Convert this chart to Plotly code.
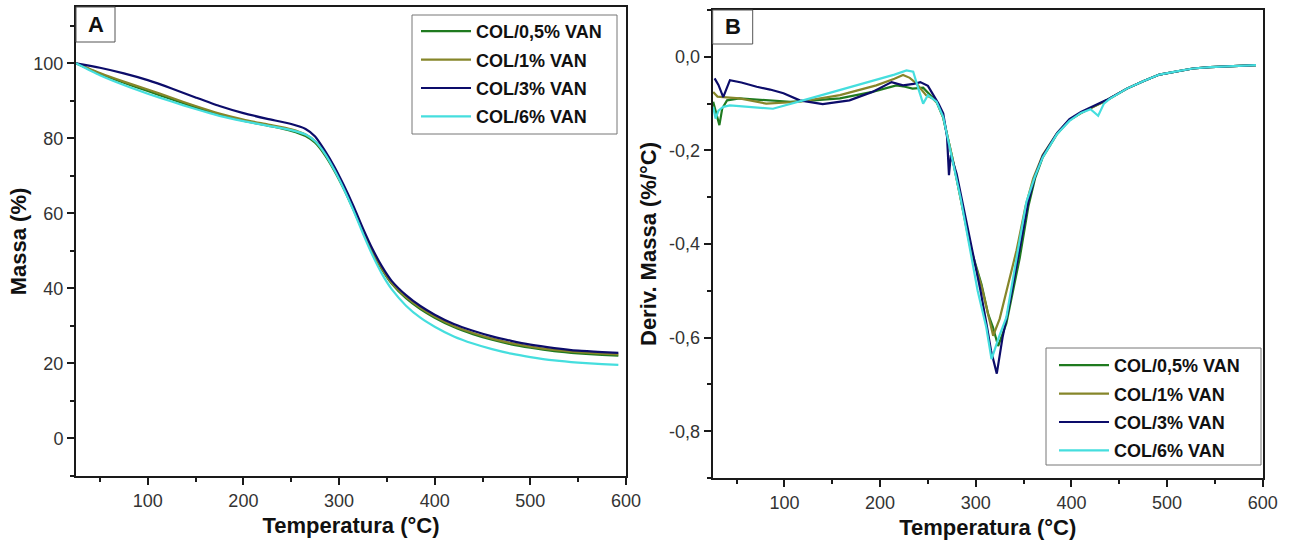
import plotly.graph_objects as go

# ---------------- data ----------------
series_names = ["COL/0,5% VAN", "COL/1% VAN", "COL/3% VAN", "COL/6% VAN"]
series_colors = ["#1f7a1f", "#86862a", "#0c0c6a", "#45dede"]

# Panel A: TG (Massa %)
T_TG = [25, 50, 75, 100, 125, 150, 175, 200, 225, 250, 265, 275, 285, 295, 305, 315,
        325, 335, 345, 355, 370, 385, 400, 420, 440, 460, 480, 500, 525, 550, 575, 592]
TG_05 = [100, 97.2, 94.8, 92.6, 90.4, 88.2, 86.3, 84.7, 83.4, 82.0, 80.6, 78.8, 75.6, 71.4, 66.5, 61.0,
         55.2, 49.7, 45.0, 41.3, 37.4, 34.5, 32.2, 29.7, 27.8, 26.3, 25.1, 24.2, 23.3, 22.7, 22.3, 22.1]
TG_1 = [100, 97.4, 95.1, 93.0, 90.8, 88.6, 86.6, 85.0, 83.7, 82.4, 81.0, 79.2, 76.0, 71.8, 66.8, 61.2,
        55.4, 49.9, 45.2, 41.5, 37.7, 34.8, 32.5, 30.0, 28.1, 26.6, 25.4, 24.5, 23.6, 23.0, 22.6, 22.4]
TG_3 = [100, 98.8, 97.3, 95.5, 93.3, 90.9, 88.6, 86.7, 85.2, 83.8, 82.5, 80.5, 76.8, 72.5, 67.5, 62.0,
        56.0, 50.5, 45.8, 42.0, 38.2, 35.3, 33.0, 30.5, 28.7, 27.2, 26.0, 25.0, 24.1, 23.4, 23.0, 22.8]
TG_6 = [100, 96.8, 94.2, 91.9, 89.8, 87.8, 86.0, 84.6, 83.4, 82.2, 81.0, 79.2, 76.0, 71.6, 66.5, 60.8,
        54.6, 48.8, 43.8, 39.8, 35.4, 32.2, 29.8, 27.2, 25.3, 23.8, 22.6, 21.7, 20.8, 20.2, 19.8, 19.6]

# Panel B: DTG (%/°C)
T_D05 = [25.5, 29, 32, 35, 40, 53, 75, 106, 130, 158, 192, 217, 226, 234, 245, 252, 259, 266, 276, 286,
         295.5, 306, 313, 318, 323.4, 332, 340, 346, 355, 362, 370, 385, 398, 410, 423, 437, 458, 475,
         492, 510, 527, 545, 562, 580, 593]
D05 = [-0.096, -0.12, -0.146, -0.11, -0.093, -0.089, -0.092, -0.096, -0.093, -0.089, -0.075, -0.061,
       -0.064, -0.068, -0.066, -0.08, -0.096, -0.13, -0.22, -0.32, -0.414, -0.486, -0.55, -0.578, -0.618,
       -0.57, -0.49, -0.43, -0.32, -0.26, -0.215, -0.165, -0.135, -0.12, -0.107, -0.093, -0.068, -0.052,
       -0.038, -0.031, -0.025, -0.022, -0.021, -0.019, -0.018]

T_D1 = [25.5, 30, 36, 53, 81, 116, 158, 196, 215, 224, 231, 238, 248, 255, 260, 266, 276, 286, 295,
        306, 313, 318.2, 325, 332, 342.6, 352, 360, 370, 385, 398, 410, 423, 437, 458, 475, 492, 510,
        527, 545, 562, 580, 593]
D1 = [-0.075, -0.085, -0.086, -0.089, -0.1, -0.096, -0.082, -0.061, -0.047, -0.039, -0.045, -0.057,
      -0.082, -0.089, -0.1, -0.13, -0.22, -0.32, -0.414, -0.49, -0.55, -0.596, -0.56, -0.5, -0.414,
      -0.32, -0.26, -0.21, -0.163, -0.135, -0.12, -0.107, -0.093, -0.068, -0.052, -0.038, -0.031,
      -0.025, -0.022, -0.021, -0.019, -0.018]

T_D3 = [27, 31, 36, 43, 55, 71, 85, 99, 116, 140, 168, 192, 212, 224, 235, 242, 250, 255, 261, 266,
        270, 272, 274, 280, 288, 297, 305, 312, 316, 322, 328, 336, 346, 355, 362, 370, 385, 398, 410,
        423, 437, 458, 475, 492, 510, 527, 545, 562, 580, 593]
D3 = [-0.046, -0.06, -0.086, -0.05, -0.055, -0.064, -0.07, -0.078, -0.093, -0.101, -0.093, -0.075,
      -0.054, -0.061, -0.058, -0.054, -0.062, -0.078, -0.1, -0.121, -0.171, -0.253, -0.21, -0.25,
      -0.33, -0.414, -0.5, -0.58, -0.628, -0.677, -0.6, -0.521, -0.414, -0.31, -0.255, -0.212, -0.163,
      -0.133, -0.118, -0.106, -0.092, -0.068, -0.052, -0.038, -0.031, -0.025, -0.022, -0.021, -0.019,
      -0.018]

T_D6 = [25.5, 28, 31, 36, 43, 60, 88, 119.5, 158, 196, 215, 227.6, 234.6, 240, 245, 250, 259, 266,
        276.4, 284, 290.4, 302, 311, 316.5, 324, 332, 344, 353, 362, 370, 385, 398, 410, 420, 428, 434,
        440, 458, 475, 492, 510, 527, 545, 562, 580, 593]
D6 = [-0.107, -0.132, -0.115, -0.107, -0.104, -0.107, -0.111, -0.093, -0.071, -0.05, -0.038, -0.029,
      -0.032, -0.068, -0.1, -0.082, -0.096, -0.129, -0.228, -0.3, -0.371, -0.5, -0.578, -0.646, -0.6,
      -0.557, -0.414, -0.31, -0.255, -0.215, -0.165, -0.137, -0.12, -0.112, -0.126, -0.1, -0.09, -0.068,
      -0.052, -0.038, -0.031, -0.025, -0.022, -0.021, -0.019, -0.018]

x_tickvals = [100, 200, 300, 400, 500, 600]
yA_tickvals = [0, 20, 40, 60, 80, 100]
yB_tickvals = [-0.8, -0.6, -0.4, -0.2, 0.0]
yB_ticktext = ["-0,8", "-0,6", "-0,4", "-0,2", "0,0"]

panel_labels = ["A", "B"]
x_title = "Temperatura (°C)"
yA_title = "Massa (%)"
yB_title = "Deriv. Massa (%/°C)"

# ---------------- figure ----------------
FONT = "Liberation Sans, Arial, Helvetica, sans-serif"
W, H = 1291, 543

fig = go.Figure()

tg_series = [TG_05, TG_1, TG_3, TG_6]
for i, (name, color, ys) in enumerate(zip(series_names, series_colors, tg_series)):
    fig.add_trace(go.Scatter(x=T_TG, y=ys, mode="lines", name=name, legendgroup="A%d" % i,
                             line=dict(color=color, width=2.2, shape="spline", smoothing=0.6),
                             xaxis="x", yaxis="y", legend="legend"))

dtg_x = [T_D05, T_D1, T_D3, T_D6]
dtg_y = [D05, D1, D3, D6]
for i, (name, color, xs, ys) in enumerate(zip(series_names, series_colors, dtg_x, dtg_y)):
    fig.add_trace(go.Scatter(x=xs, y=ys, mode="lines", name=name, legendgroup="B%d" % i,
                             line=dict(color=color, width=2.2),
                             xaxis="x2", yaxis="y2", legend="legend2"))

def px_x(p):
    return p / W

def px_y(p):
    return 1 - p / H

axis_common = dict(showline=True, linecolor="#1a1a1a", linewidth=2, mirror=True,
                   ticks="outside", ticklen=7, tickwidth=1.5, tickcolor="#1a1a1a",
                   showgrid=False, zeroline=False, automargin=False,
                   tickfont=dict(family=FONT, size=18, color="#333333"))
title_font = dict(family=FONT, size=22, color="#111111", weight="bold")
minor_common = dict(ticklen=4, tickwidth=1.5, ticks="outside", tickcolor="#1a1a1a")
legend_common = dict(xanchor="left", yanchor="top", bgcolor="rgba(255,255,255,0)", borderwidth=0,
                     font=dict(family=FONT, size=18, color="#111111", weight="bold"),
                     itemwidth=50, tracegroupgap=2)

fig.update_layout(
    width=W, height=H, autosize=False,
    margin=dict(l=0, r=0, t=0, b=0, pad=0, autoexpand=False),
    paper_bgcolor="white", plot_bgcolor="white",
    xaxis=dict(domain=[px_x(76), px_x(626)], range=[25, 600], tickvals=x_tickvals,
               minor=dict(dtick=50, tick0=0, **minor_common),
               title=dict(text=x_title, font=title_font, standoff=8), anchor="y", **axis_common),
    yaxis=dict(domain=[px_y(476), px_y(7)], range=[-10, 115], tickvals=yA_tickvals,
               minor=dict(dtick=10, tick0=0, **minor_common),
               title=dict(text=yA_title, font=title_font, standoff=1), anchor="x", **axis_common),
    xaxis2=dict(domain=[px_x(712.7), px_x(1262.7)], range=[25, 600], tickvals=x_tickvals,
                minor=dict(dtick=50, tick0=0, **minor_common),
                title=dict(text=x_title, font=title_font, standoff=8), anchor="y2", **axis_common),
    yaxis2=dict(domain=[px_y(478), px_y(10)], range=[-0.9, 0.1], tickvals=yB_tickvals, ticktext=yB_ticktext,
                minor=dict(dtick=0.1, tick0=0, **minor_common),
                title=dict(text=yB_title, font=title_font, standoff=6), anchor="x2", **axis_common),
    legend=dict(x=px_x(416), y=px_y(13), **legend_common),
    legend2=dict(x=px_x(1054), y=px_y(347), **legend_common),
    showlegend=True,
)

# legend frames (white boxes behind the legends)
for x0, y0, x1, y1 in [(412, 15, 617, 134), (1046, 348, 1261, 465)]:
    fig.add_shape(type="rect", xref="paper", yref="paper",
                  x0=px_x(x0), x1=px_x(x1), y0=px_y(y1), y1=px_y(y0),
                  line=dict(color="#777777", width=1), fillcolor="white", layer="above")

# panel label boxes
for lab, xr, yr, wfrac, hfrac in [(panel_labels[0], "x domain", "y domain", 39 / 550, 35 / 469),
                                   (panel_labels[1], "x2 domain", "y2 domain", 40 / 550, 34 / 468)]:
    fig.add_shape(type="rect", xref=xr, yref=yr, x0=0, x1=wfrac, y0=1 - hfrac, y1=1,
                  line=dict(color="#555555", width=1), fillcolor="white", layer="above")
    fig.add_annotation(text=lab, xref=xr, yref=yr, x=wfrac / 2, y=1 - hfrac / 2,
                       showarrow=False, xanchor="center", yanchor="middle",
                       font=dict(family=FONT, size=22, color="#111111", weight="bold"))

fig.write_html("out.html", config={"responsive": False})
